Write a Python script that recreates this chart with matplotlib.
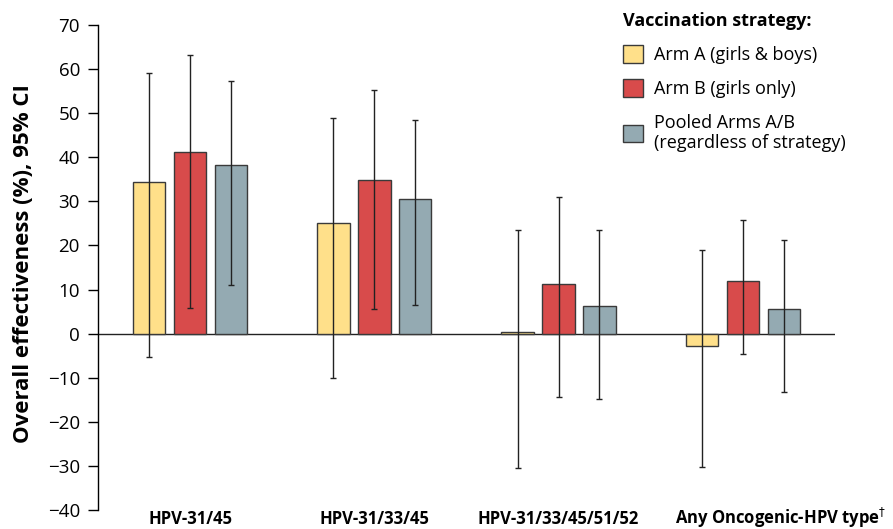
import matplotlib.pyplot as plt
import matplotlib.transforms as mtransforms
import numpy as np

plt.rcParams['font.family'] = ['Open Sans', 'DejaVu Sans']

groups = ["HPV-31/45", "HPV-31/33/45", "HPV-31/33/45/51/52", r"Any Oncogenic-HPV type$^{\dagger}$"]
series = ["Arm A (girls & boys)", "Arm B (girls only)", "Pooled Arms A/B\n(regardless of strategy)"]

# effectiveness, lower CI, upper CI per series
arm_a = [34.3, 25.1, 0.3, -2.7]
arm_a_lo = [-5.2, -10.1, -30.5, -30.2]
arm_a_hi = [59.2, 49.0, 23.6, 19.0]

arm_b = [41.1, 34.8, 11.2, 11.9]
arm_b_lo = [5.9, 5.6, -14.3, -4.7]
arm_b_hi = [63.2, 55.2, 31.0, 25.7]

pooled = [38.3, 30.5, 6.3, 5.6]
pooled_lo = [11.1, 6.5, -14.8, -13.2]
pooled_hi = [57.2, 48.4, 23.4, 21.3]

colors = ["#FFE08A", "#D84B4B", "#94AAB2"]

fig = plt.figure(figsize=(8.93, 5.29), dpi=100)
ax = fig.add_axes([0.1097, 0.0359, 0.8253, 0.9168])

x = np.arange(len(groups))
offset = 0.222
width = 0.176
data = [(arm_a, arm_a_lo, arm_a_hi), (arm_b, arm_b_lo, arm_b_hi), (pooled, pooled_lo, pooled_hi)]
for i, (vals, lo, hi) in enumerate(data):
    vals = np.array(vals)
    err = [vals - np.array(lo), np.array(hi) - vals]
    ax.bar(x + (i - 1) * offset, vals, width, color=colors[i], edgecolor="#3a3a3a",
           linewidth=1.0, label=series[i], zorder=2)
    ax.errorbar(x + (i - 1) * offset, vals, yerr=err, fmt="none", ecolor="#222222",
                elinewidth=1.0, capsize=2.5, capthick=1.0, zorder=3)

ax.axhline(0, color="#222222", linewidth=1.0, zorder=1)
ax.set_xlim(-0.5, 3.5)
ax.set_ylim(-40, 70)
ax.set_yticks(range(-40, 71, 10))
ax.set_xticks(x)
ax.set_xticklabels(groups, fontweight="bold", fontsize=12, va="baseline")
ax.tick_params(axis="x", length=0, pad=10)
ax.tick_params(axis="y", labelsize=13.5, length=7, width=1, direction="out", pad=6)
for s in ["top", "right", "bottom"]:
    ax.spines[s].set_visible(False)
ax.spines["left"].set_linewidth(1.0)

# last category label sits right of its group in the original
last = ax.get_xticklabels()[-1]
last.set_transform(last.get_transform() + mtransforms.ScaledTranslation(0.38, 0, fig.dpi_scale_trans))

ylab = ax.set_ylabel("Overall effectiveness (%), 95% CI", fontsize=16, fontweight="bold")
ax.yaxis.set_label_coords(-0.101, 0.509)
ylab.set_va("center")

leg = ax.legend(title="Vaccination strategy:", loc="upper left", bbox_to_anchor=(0.703, 1.042),
                frameon=False, fontsize=13, title_fontproperties={"weight": "bold", "size": 13},
                handlelength=1.1, handleheight=1.1, handletextpad=0.6, labelspacing=0.85,
                alignment="left", borderaxespad=0)

fig.savefig("out.png", dpi=100)
